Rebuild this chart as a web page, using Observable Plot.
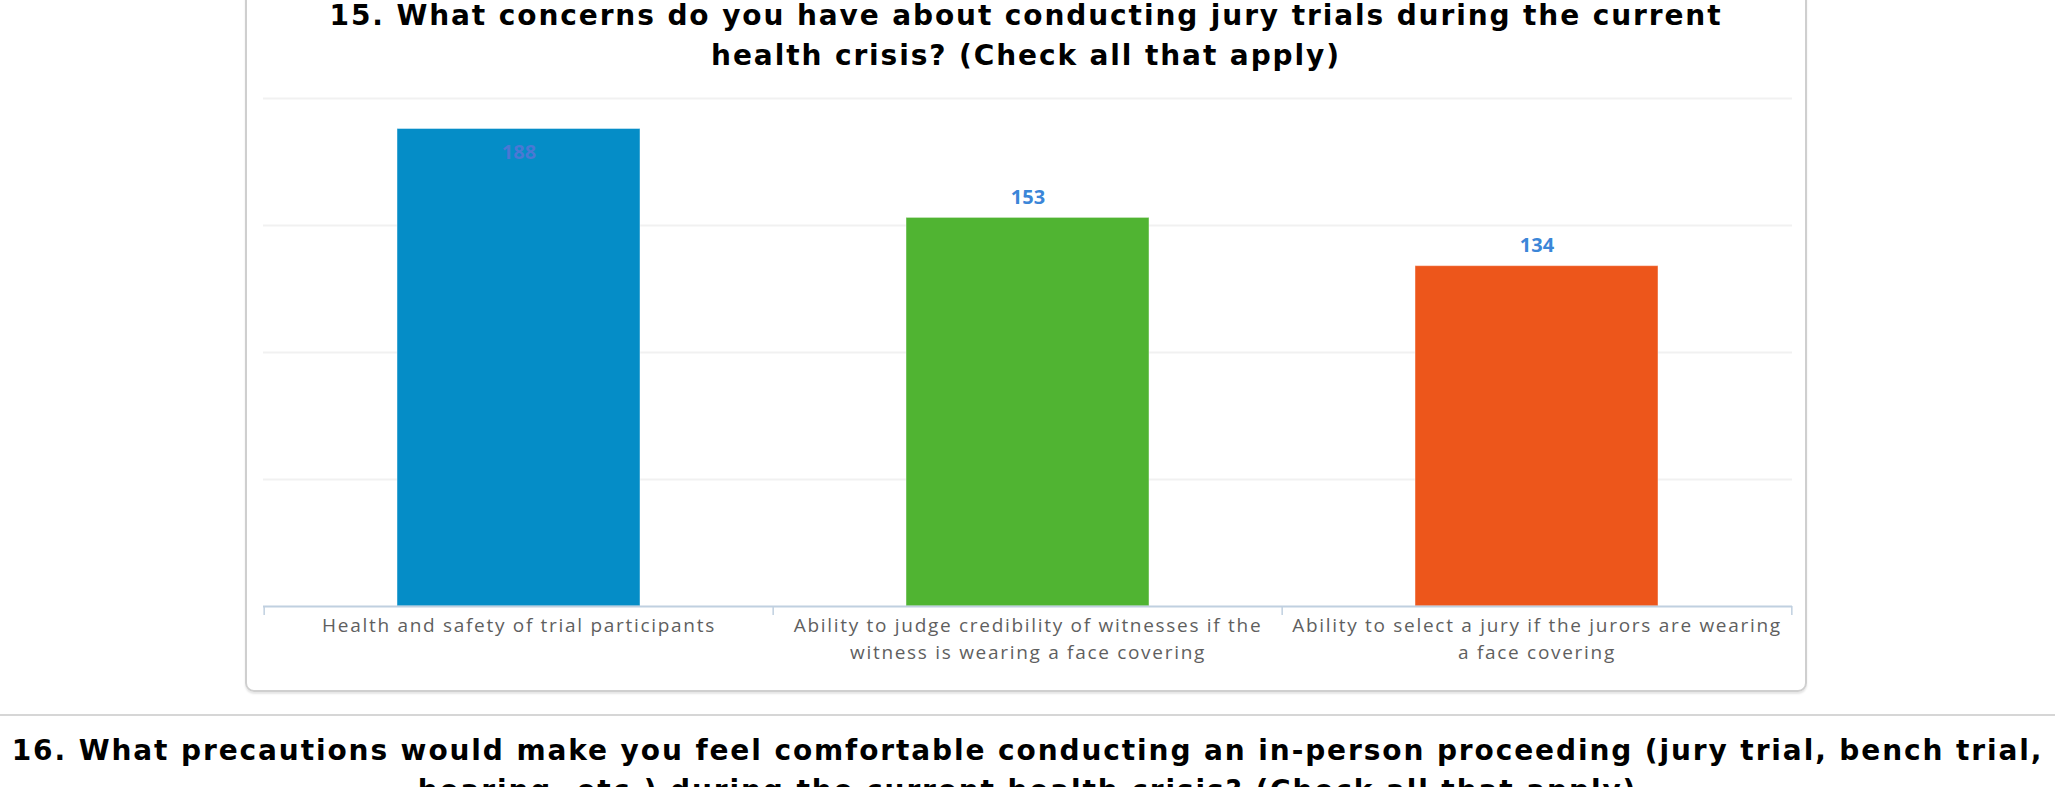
<!DOCTYPE html>
<html>
<head>
<meta charset="utf-8">
<script src="https://cdn.jsdelivr.net/npm/d3@7"></script>
<script src="https://cdn.jsdelivr.net/npm/@observablehq/plot@0.6"></script>
<style>
  html, body { margin: 0; padding: 0; background: #fff; }
  body { width: 2055px; height: 787px; overflow: hidden; position: relative; }
  .panel { position: absolute; left: 245px; top: -40px; width: 1558px; height: 728px;
           border: 2px solid #cfcfcf; border-radius: 9px; box-shadow: 0 2px 2px rgba(0,0,0,0.10); }
  .title { font-family: "DejaVu Sans", sans-serif; font-weight: bold; font-size: 28px;
           letter-spacing: 1.9px; line-height: 40px; text-align: center; color: #000; white-space: nowrap; }
  #chart { position: absolute; left: 247px; top: 0; width: 1558px; }
  #chart .title { margin-top: -4px; height: 78px; }
  .sep { position: absolute; left: 0; top: 714px; width: 2055px; height: 2px; background: #d6d6d6; }
  #next { position: absolute; left: 0; top: 731px; width: 2055px; }
  #chart svg g[aria-label="x-axis tick label"] text { letter-spacing: 1.7px; }
</style>
</head>
<body>
<div class="panel"></div>
<div id="chart"></div>
<div class="sep"></div>
<div id="next" class="title"></div>
<script>
// ---- data ----
const titleLines = ["15. What concerns do you have about conducting jury trials during the current",
                    "health crisis? (Check all that apply)"];
const nextTitleLines = ["16. What precautions would make you feel comfortable conducting an in-person proceeding (jury trial, bench trial,",
                        "hearing, etc.) during the current health crisis? (Check all that apply)"];
const categories = ["Health and safety of trial participants",
                    "Ability to judge credibility of witnesses if the witness is wearing a face covering",
                    "Ability to select a jury if the jurors are wearing a face covering"];
const values = [188, 153, 134];
const tickLabels = ["Health and safety of trial participants",
                    "Ability to judge credibility of witnesses if the\nwitness is wearing a face covering",
                    "Ability to select a jury if the jurors are wearing\na face covering"];
const barColors = ["#058DC7", "#50B432", "#ED561B"];
const yTicks = [0, 50, 100, 150, 200];

// ---- layout ----
const W = 1558, H = 608, mL = 16, mR = 13, mT = 24, mB = 76;
const innerW = W - mL - mR, innerH = H - mT - mB;
const step = innerW / categories.length;
const yMax = yTicks[yTicks.length - 1];
const labelRoom = 32; // px needed above a bar for its label
const data = categories.map((c, i) => ({category: c, value: values[i]}));
const inside = d => d.value + labelRoom * yMax / innerH > yMax;

const chart = document.getElementById("chart");
const t = document.createElement("div");
t.className = "title";
t.innerHTML = titleLines.join("<br>");
chart.appendChild(t);

const plot = Plot.plot({
  width: W, height: H,
  marginLeft: mL, marginRight: mR, marginTop: mT, marginBottom: mB,
  style: {fontFamily: "'Open Sans', sans-serif", background: "transparent", overflow: "visible"},
  x: {domain: categories, paddingInner: 0.523, paddingOuter: 0.2615, axis: null},
  y: {domain: [0, yMax], axis: null},
  color: {domain: categories, range: barColors},
  marks: [
    Plot.ruleY(yTicks.filter(v => v > 0), {stroke: "#f1f1f1", strokeWidth: 2}),
    Plot.barY(data, {x: "category", y: "value", fill: "category", stroke: "#fff", strokeOpacity: 0.45, strokeWidth: 1}),
    Plot.ruleY([0], {stroke: "#c0d0e0", strokeWidth: 2}),
    Plot.ruleX(categories, {x: d => d, dx: -step / 2, stroke: "#c0d0e0", strokeWidth: 1.5, insetTop: innerH, insetBottom: -9}),
    Plot.ruleX(categories.slice(-1), {x: d => d, dx: step / 2, stroke: "#c0d0e0", strokeWidth: 1.5, insetTop: innerH, insetBottom: -9}),
    Plot.axisX({tickSize: 0, tickPadding: 6, fontSize: 19, fill: "#5f5f5f", lineHeight: 1.42, label: null,
                tickFormat: d => tickLabels[categories.indexOf(d)]}),
    Plot.text(data.filter(d => !inside(d)), {x: "category", y: "value", text: d => String(d.value),
                lineAnchor: "bottom", dy: -14, fill: "#3b86d8", fontSize: 20, fontWeight: "bold"}),
    Plot.text(data.filter(inside), {x: "category", y: "value", text: d => String(d.value),
                lineAnchor: "bottom", dy: 30, fill: "#4a78d4", fontSize: 20, fontWeight: "bold"})
  ]
});
chart.appendChild(plot);

document.getElementById("next").innerHTML = nextTitleLines.join("<br>");
</script>
</body>
</html>
